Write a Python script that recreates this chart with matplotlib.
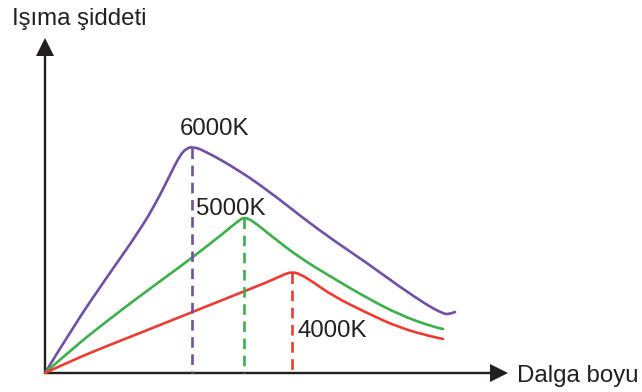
import matplotlib
matplotlib.use('Agg')
import matplotlib.pyplot as plt
from matplotlib.path import Path
from matplotlib.patches import PathPatch

# curves (x = wavelength, y = intensity)
x_6000 = [0, 28, 62, 95, 112, 125, 135, 142, 148, 158, 192, 225, 258, 288, 322, 355, 382, 395, 403, 410]
y_6000 = [0, 46, 96, 143, 172, 198, 218, 225, 226, 223, 204, 181, 155, 133, 110, 86, 68, 61, 58, 61]

x_5000 = [0, 28, 62, 95, 125, 148, 175, 192, 199, 208, 225, 255, 288, 322, 355, 388, 398]
y_5000 = [0, 25, 52, 77, 99, 116, 137, 151, 156, 152, 138, 115, 95, 75, 58, 46, 44]

x_4000 = [0, 28, 62, 95, 135, 175, 205, 225, 240, 247, 255, 268, 288, 322, 355, 388, 398]
y_4000 = [0, 13, 27, 40, 56, 72, 84, 92, 99, 101, 99, 91, 77, 60, 45, 36, 34]

peaks_x = [147, 199, 247]
peaks_y = [226, 156, 101]
labels = ['6000K', '5000K', '4000K']
colors = ['#7150A6', '#3DB04A', '#EE3B32']


def smooth_path(xs, ys):
    # quadratic bezier: every inner point is a control point
    pts = list(zip(xs, ys))
    verts = [pts[0]]
    codes = [Path.MOVETO]
    for i in range(1, len(pts) - 1):
        nxt = pts[i + 1]
        end = nxt if i == len(pts) - 2 else ((pts[i][0] + nxt[0]) / 2, (pts[i][1] + nxt[1]) / 2)
        verts += [pts[i], end]
        codes += [Path.CURVE3, Path.CURVE3]
    return Path(verts, codes)


plt.rcParams['font.family'] = ['Liberation Sans', 'DejaVu Sans']
fig = plt.figure(figsize=(6.42, 3.92), dpi=100)
ax = fig.add_axes([0, 0, 1, 1])
ax.set_xlim(-45, 597)
ax.set_ylim(-19, 373)
ax.axis('off')

txt = '#231F20'
lw = 1.9

# axes with arrows
ax.arrow(0, 0, 463, 0, width=2.4, head_width=18, head_length=18,
         length_includes_head=True, fc=txt, ec='none')
ax.arrow(0, 0, 0, 335, width=2.4, head_width=18, head_length=18,
         length_includes_head=True, fc=txt, ec='none')

curves = [(x_6000, y_6000), (x_5000, y_5000), (x_4000, y_4000)]
for (xs, ys), c in zip(curves, colors):
    ax.add_patch(PathPatch(smooth_path(xs, ys), fc='none', ec=c, lw=lw,
                           joinstyle='round', capstyle='round'))

for px, py, c in zip(peaks_x, peaks_y, colors):
    ax.plot([px, px], [py - 1, 0], color=c, lw=lw, dashes=(4, 2.5))

fs = 17.3
ax.text(135, 238, labels[0], fontsize=fs, color=txt, va='baseline')
ax.text(151, 158, labels[1], fontsize=fs, color=txt, va='baseline')
ax.text(252, 36, labels[2], fontsize=fs, color=txt, va='baseline')
ax.text(-33, 348, 'Işıma şiddeti', fontsize=fs, color=txt, va='baseline')
ax.text(472, -9, 'Dalga boyu', fontsize=fs, color=txt, va='baseline')

fig.savefig('out.png', dpi=100)
